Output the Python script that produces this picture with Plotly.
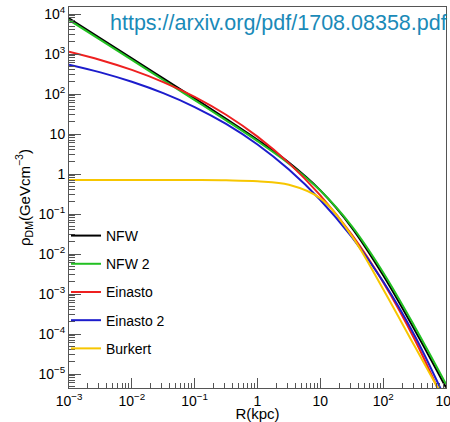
import plotly.graph_objects as go

# Radius (kpc)
R = [1e-3, 3.162e-3, 1e-2, 3.162e-2, 0.1, 0.3162, 1, 3.162, 10, 31.62, 100, 316.2, 1000]
# Dark-matter density (GeV cm^-3)
rho_nfw = [7800, 2466, 779, 246, 77.4, 24.0, 7.19, 1.93, 0.389, 0.0459, 2.95e-3, 1.28e-4, 4.6e-6]
rho_nfw2 = [7100, 2245, 709.5, 224, 70.5, 21.95, 6.62, 1.81, 0.3855, 0.0497, 3.45e-3, 1.55e-4, 5.6e-6]
rho_ein = [1140, 710, 400, 199, 85.1, 30.3, 8.60, 1.87, 0.291, 0.0304, 1.98e-3, 7.4e-5, 1.5e-6]
rho_ein2 = [542, 348, 202, 104.8, 47.1, 17.8, 5.45, 1.29, 0.224, 0.0266, 2.05e-3, 9.2e-5, 2.2e-6]
rho_bur = [0.712, 0.7118, 0.7114, 0.7102, 0.7064, 0.6942, 0.6558, 0.5364, 0.2452, 0.0285, 1.32e-3, 5.0e-5, 1.9e-6]

names = ["NFW", "NFW 2", "Einasto", "Einasto 2", "Burkert"]
colors = ["#000000", "#22c022", "#ee2020", "#1c1ccc", "#f7c600"]
series = [rho_nfw, rho_nfw2, rho_ein, rho_ein2, rho_bur]

x_tickvals = [1e-3, 1e-2, 1e-1, 1, 10, 100, 1000]
x_ticktext = ["10<sup>−3</sup>", "10<sup>−2</sup>", "10<sup>−1</sup>", "1", "10", "10<sup>2</sup>", "10<sup>3</sup>"]
y_tickvals = [1e-5, 1e-4, 1e-3, 1e-2, 1e-1, 1, 10, 100, 1000, 1e4]
y_ticktext = ["10<sup>−5</sup>", "10<sup>−4</sup>", "10<sup>−3</sup>", "10<sup>−2</sup>", "10<sup>−1</sup>",
              "1", "10", "10<sup>2</sup>", "10<sup>3</sup>", "10<sup>4</sup>"]

def minors(lo, hi):
    out = []
    for e in range(lo, hi):
        for m in range(2, 10):
            out.append(m * 10.0 ** e)
    return out

fig = go.Figure()
for i, (n, c, s) in enumerate(zip(names, colors, series)):
    fig.add_trace(go.Scatter(x=R, y=s, mode="lines", name=n, legendgroup=str(i),
                             line=dict(color=c, width=2, shape="spline", smoothing=1.0)))

font = "Liberation Sans, Arial, sans-serif"
fig.update_layout(
    width=450, height=422,
    margin=dict(l=69, r=4, t=7, b=34, autoexpand=False),
    paper_bgcolor="white", plot_bgcolor="white",
    font=dict(family=font, size=14, color="black"),
    showlegend=True,
    legend=dict(x=-0.008, xanchor="left", y=0.441, yanchor="top",
                bgcolor="rgba(0,0,0,0)", font=dict(size=14), tracegroupgap=7,
                traceorder="grouped"),
    xaxis=dict(type="log", range=[-3, 3], showgrid=False, zeroline=False, automargin=False,
               showline=True, linecolor="#555555", linewidth=1, mirror=True,
               ticks="inside", ticklen=10, tickcolor="#555555",
               tickvals=x_tickvals, ticktext=x_ticktext, tickfont=dict(size=14),
               ticklabeloverflow="allow",
               minor=dict(ticks="inside", ticklen=5, tickcolor="#555555", tickvals=minors(-3, 3)),
               title=dict(text="R(kpc)", font=dict(size=15), standoff=3)),
    yaxis=dict(type="log", range=[-5.35, 4.175], showgrid=False, zeroline=False, automargin=False,
               showline=True, linecolor="#555555", linewidth=1, mirror=True,
               ticks="inside", ticklen=12, tickcolor="#555555",
               tickvals=y_tickvals, ticktext=y_ticktext, tickfont=dict(size=14),
               minor=dict(ticks="inside", ticklen=6, tickcolor="#555555", tickvals=minors(-6, 5)),
               title=dict(text="ρ<sub>DM</sub>(GeVcm<sup>−3</sup>)", font=dict(size=15), standoff=4)),
)

fig.add_annotation(text="https://arxiv.org/pdf/1708.08358.pdf", xref="paper", yref="paper",
                   x=1.008, y=0.958, xanchor="right", yanchor="middle", showarrow=False,
                   font=dict(family=font, size=21.5, color="#1a8ab8"))

fig.write_html("out.html")
